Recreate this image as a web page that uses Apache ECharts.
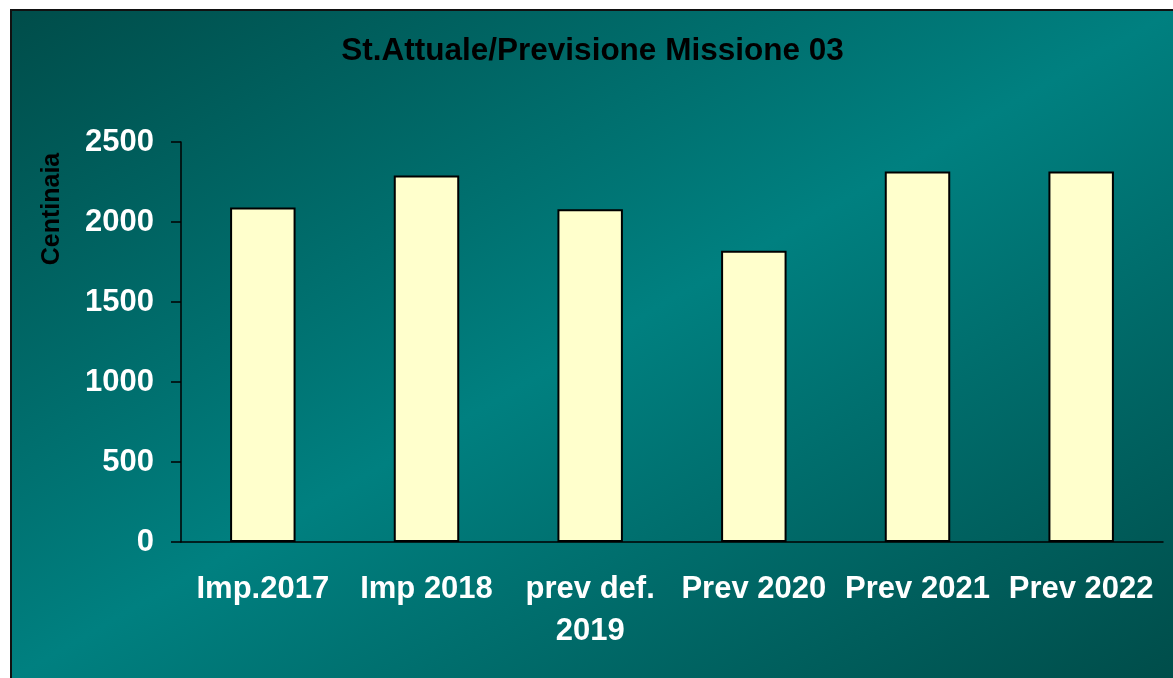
<!DOCTYPE html>
<html>
<head>
<meta charset="utf-8">
<script src="https://cdn.jsdelivr.net/npm/echarts@6/dist/echarts.min.js"></script>
<style>
  html, body { margin: 0; padding: 0; background: #fff; overflow: hidden; }
  #wrap {
    position: absolute; left: 10px; top: 9px;
    border-left: 2px solid #111; border-top: 2px solid #111;
    background: linear-gradient(to bottom right, #004d4a 0%, #008080 50%, #004d4a 100%);
  }
  #chart { width: 1161px; height: 667px; }
</style>
</head>
<body>
<div id="wrap"><div id="chart"></div></div>
<script>
// dati del grafico
var categorie = ['Imp.2017', 'Imp 2018', 'prev def.\n2019', 'Prev 2020', 'Prev 2021', 'Prev 2022'];
var valori = [2090, 2290, 2080, 1820, 2315, 2315];
var titolo = 'St.Attuale/Previsione Missione 03';
var nomeAsseY = 'Centinaia';

var myChart = echarts.init(document.getElementById('chart'));

var font = '"Liberation Sans", Arial, sans-serif';

var option = {
    backgroundColor: 'transparent',
    //titolo
    title: {
        text: titolo,
        left: 'center',
        top: 24,
        padding: 0,
        textStyle: { color: '#000', fontSize: 31.5, fontWeight: 'bold', fontFamily: font }
    },
    grid: { left: 169, top: 131, width: 982, height: 400 },
    xAxis: {
        type: 'category',
        data: categorie,
        axisLine: { lineStyle: { color: '#000', width: 1.5 } },
        axisTick: { length: 10, lineStyle: { color: '#000', width: 1.5 } },
        axisLabel: {
            interval: 0, margin: 26, color: '#fff', fontSize: 31, fontWeight: 'bold',
            fontFamily: font, lineHeight: 42
        }
    },
    yAxis: {
        type: 'value',
        min: 0, max: 2500, interval: 500,
        splitLine: { show: false },
        axisLine: { show: true, lineStyle: { color: '#000', width: 1.5 } },
        axisTick: { show: true, length: 10, lineStyle: { color: '#000', width: 1.5 } },
        axisLabel: {
            margin: 27, color: '#fff', fontSize: 31, fontWeight: 'bold', fontFamily: font,
            formatter: function (v) { return String(v); }
        }
    },
    // titolo asse verticale
    graphic: [{
        type: 'text',
        x: 40, y: 198,
        rotation: Math.PI / 2,
        style: {
            text: nomeAsseY, fill: '#000', fontSize: 25, fontWeight: 'bold', fontFamily: font,
            textAlign: 'center', textVerticalAlign: 'middle'
        }
    }],
    series: [{
        type: 'bar',
        data: valori,
        barWidth: '40%',
        itemStyle: { color: '#ffffcc', borderColor: '#000', borderWidth: 2 },
        animation: false
    }]
};

myChart.setOption(option);
</script>
</body>
</html>
